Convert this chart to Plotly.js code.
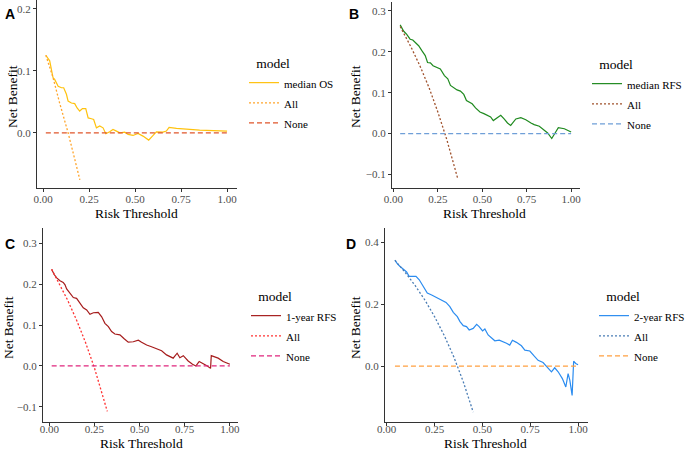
<!DOCTYPE html>
<html><head><meta charset="utf-8">
<script src="https://cdn.plot.ly/plotly-3.0.1.min.js"></script>
<style>html,body{margin:0;padding:0;background:#fff}#chart{width:685px;height:451px}</style>
</head><body><div id="chart"></div>
<script>
// ---------- Panel A : median OS ----------
const thrA = [0.015,0.036,0.054,0.063,0.082,0.100,0.112,0.127,0.136,0.154,0.172,0.185,0.199,0.214,0.232,0.245,0.263,0.275,0.290,0.308,0.326,0.341,0.362,0.380,0.399,0.417,0.444,0.462,0.489,0.516,0.543,0.574,0.598,0.616,0.652,0.670,0.685,0.725,0.851,1.0];
const nbA  = [0.125,0.116,0.089,0.086,0.075,0.0726,0.0726,0.062,0.051,0.048,0.047,0.040,0.035,0.039,0.039,0.024,0.0226,0.0215,0.008,0.011,0.008,-0.0016,0.0016,0.0054,0.0027,0,0.001,-0.0027,-0.0043,-0.001,-0.0054,-0.0118,-0.0043,0.0016,0.001,0.0027,0.0086,0.007,0.0043,0.0027];
const allThrA = [0.015,0.054,0.09,0.136,0.17,0.2];
const allNbA  = [0.125,0.089,0.048,0,-0.040,-0.076];
const noneThrA = [0.015,1.0];
const noneNbA  = [0,0];

// ---------- Panel B : median RFS ----------
const thrB = [0.038,0.057,0.075,0.094,0.109,0.123,0.142,0.160,0.179,0.192,0.208,0.223,0.245,0.264,0.287,0.306,0.321,0.340,0.358,0.377,0.396,0.411,0.425,0.443,0.462,0.487,0.509,0.528,0.547,0.562,0.585,0.604,0.623,0.642,0.660,0.675,0.689,0.717,0.745,0.774,0.792,0.821,0.840,0.868,0.891,0.906,0.928,0.962,1.0];
const nbB  = [0.266,0.251,0.243,0.231,0.229,0.223,0.215,0.203,0.191,0.174,0.173,0.166,0.162,0.158,0.142,0.134,0.118,0.112,0.107,0.104,0.096,0.081,0.077,0.073,0.063,0.053,0.049,0.045,0.041,0.032,0.039,0.045,0.036,0.026,0.020,0.028,0.036,0.039,0.034,0.026,0.022,0.018,0.012,0.0016,-0.012,0,0.0146,0.012,0.004];
const allThrB = [0.038,0.1,0.15,0.2,0.25,0.3,0.362];
const allNbB  = [0.262,0.211,0.165,0.113,0.053,-0.014,-0.11];
const noneThrB = [0.038,1.0];
const noneNbB  = [0,0];

// ---------- Panel C : 1-year RFS ----------
const thrC = [0.013,0.026,0.041,0.059,0.077,0.087,0.096,0.114,0.133,0.151,0.170,0.188,0.207,0.225,0.244,0.271,0.290,0.308,0.327,0.345,0.363,0.391,0.413,0.437,0.465,0.493,0.511,0.539,0.566,0.594,0.622,0.649,0.686,0.708,0.723,0.742,0.769,0.793,0.812,0.830,0.852,0.875,0.893,0.897,0.935,0.963,1.0];
const nbC  = [0.236,0.224,0.215,0.208,0.204,0.198,0.188,0.177,0.167,0.165,0.153,0.142,0.137,0.126,0.130,0.131,0.120,0.104,0.096,0.084,0.078,0.076,0.067,0.058,0.059,0.063,0.058,0.051,0.047,0.041,0.037,0.027,0.019,0.031,0.020,0.025,0.012,0.004,0,0.011,0.0065,0,-0.006,0.025,0.019,0.011,0.004];
const allThrC = [0.013,0.05,0.1,0.15,0.2,0.25,0.3,0.321];
const allNbC  = [0.236,0.206,0.162,0.113,0.058,-0.005,-0.077,-0.111];
const noneThrC = [0.013,1.0];
const noneNbC  = [0,0];

// ---------- Panel D : 2-year RFS ----------
const thrD = [0.043,0.056,0.070,0.087,0.104,0.117,0.130,0.153,0.170,0.191,0.212,0.235,0.261,0.287,0.310,0.330,0.348,0.369,0.383,0.400,0.417,0.431,0.452,0.470,0.483,0.501,0.513,0.530,0.548,0.565,0.588,0.609,0.626,0.643,0.657,0.678,0.704,0.722,0.748,0.769,0.791,0.817,0.838,0.861,0.878,0.896,0.918,0.936,0.948,0.957,0.969,0.977,0.988,1.0];
const nbD  = [0.342,0.330,0.322,0.314,0.304,0.290,0.290,0.290,0.279,0.257,0.236,0.230,0.222,0.214,0.206,0.192,0.174,0.160,0.144,0.131,0.128,0.117,0.122,0.135,0.128,0.114,0.120,0.101,0.090,0.082,0.084,0.079,0.074,0.068,0.084,0.077,0.066,0.052,0.049,0.034,0.019,0.012,-0.002,-0.018,-0.005,-0.018,-0.040,-0.067,-0.024,-0.045,-0.094,0.016,0.009,0.005];
const allThrD = [0.043,0.1,0.15,0.2,0.25,0.3,0.35,0.4,0.452];
const allNbD  = [0.342,0.30,0.259,0.213,0.16,0.10,0.031,-0.05,-0.148];
const noneThrD = [0.043,1.0];
const noneNbD  = [0,0];

const modelNames = ['median OS','median RFS','1-year RFS','2-year RFS'];
const xTickVals = [0,0.25,0.5,0.75,1];
const xTickText = ['0.00','0.25','0.50','0.75','1.00'];

const serif = 'Liberation Serif, Times New Roman, serif';
const panels = [
  {thr:thrA, nb:nbA, at:allThrA, an:allNbA, nt:noneThrA, nn:noneNbA, c:['#FFC20E','#FFA52C','#E0552B'], xd:[37,237], yd:[0,188], xr:[-0.033,1.054], yr:[-0.089,0.214], yt:[0,0.1,0.2], ytt:['0.0','0.1','0.2'], ls:-2, xt:[136,213], yti:[12,97], lg:[244,50]},
  {thr:thrB, nb:nbB, at:allThrB, an:allNbB, nt:noneThrB, nn:noneNbB, c:['#1F8A1F','#A0522D','#6F9FD8'], xd:[392,580], yd:[2,188], xr:[-0.008,1.05], yr:[-0.133,0.322], yt:[-0.1,0,0.1,0.2,0.3], ytt:['\u22120.1','0.0','0.1','0.2','0.3'], ls:-2, xt:[484,213], yti:[355,97], lg:[587,51]},
  {thr:thrC, nb:nbC, at:allThrC, an:allNbC, nt:noneThrC, nn:noneNbC, c:['#A61C1C','#FF3333','#E0267D'], xd:[43,238], yd:[228,422], xr:[-0.035,1.045], yr:[-0.137,0.337], yt:[-0.1,0,0.1,0.2,0.3], ytt:['\u22120.1','0.0','0.1','0.2','0.3'], ls:-6, xt:[141,443], yti:[8,328], lg:[246,283]},
  {thr:thrD, nb:nbD, at:allThrD, an:allNbD, nt:noneThrD, nn:noneNbD, c:['#2B8CF0','#4A7DB5','#FFA040'], xd:[385,588], yd:[228,422], xr:[-0.009,1.052], yr:[-0.18,0.446], yt:[0,0.2,0.4], ytt:['0.0','0.2','0.4'], ls:-6, xt:[486,443], yti:[355,328], lg:[594,283]}
];
const letters = [['A',3,4],['B',347,4],['C',3,234],['D',344,234]];

const W=685,H=451;
const traces=[]; const layout={width:W,height:H,margin:{l:0,r:0,t:0,b:0,autoexpand:false},paper_bgcolor:'#fff',plot_bgcolor:'#fff',showlegend:true,annotations:[]};
const small = s => '<span style="font-size:11px">'+s+'</span>';
panels.forEach((p,i)=>{
  const n=i===0?'':String(i+1);
  const xa='x'+n, ya='y'+n, lg='legend'+n;
  traces.push({x:p.thr,y:p.nb,xaxis:xa,yaxis:ya,mode:'lines',name:small(modelNames[i]),legend:lg,line:{color:p.c[0],width:1.2}});
  traces.push({x:p.at,y:p.an,xaxis:xa,yaxis:ya,mode:'lines',name:small('All'),legend:lg,line:{color:p.c[1],width:1.3,dash:'2px,2px'}});
  traces.push({x:p.nt,y:p.nn,xaxis:xa,yaxis:ya,mode:'lines',name:small('None'),legend:lg,line:{color:p.c[2],width:1.3,dash:'5px,3px'}});
  const axCommon={showline:true,linecolor:'#333',linewidth:1,ticks:'outside',ticklen:3,tickcolor:'#333',tickwidth:1,showgrid:false,zeroline:false,tickfont:{family:serif,size:11,color:'#4d4d4d'}};
  layout['xaxis'+n]=Object.assign({},axCommon,{domain:[p.xd[0]/W,p.xd[1]/W],range:p.xr,anchor:ya,tickvals:xTickVals,ticktext:xTickText,ticklabelstandoff:p.ls});
  layout['yaxis'+n]=Object.assign({},axCommon,{domain:[1-p.yd[1]/H,1-p.yd[0]/H],range:p.yr,anchor:xa,tickvals:p.yt,ticktext:p.ytt});
  layout[lg]={x:p.lg[0]/W,y:1-p.lg[1]/H,xanchor:'left',yanchor:'top',bgcolor:'rgba(0,0,0,0)',borderwidth:0,
    title:{text:'&nbsp;&nbsp;&nbsp;model',font:{family:serif,size:13.5,color:'#000'}},font:{family:serif,size:13.2,color:'#000'},tracegroupgap:0,itemwidth:30};
  layout.annotations.push({text:'Risk Threshold',xref:'paper',yref:'paper',x:p.xt[0]/W,y:1-p.xt[1]/H,xanchor:'center',yanchor:'middle',showarrow:false,font:{family:serif,size:13.5,color:'#000'}});
  layout.annotations.push({text:'Net Benefit',textangle:-90,xref:'paper',yref:'paper',x:p.yti[0]/W,y:1-p.yti[1]/H,xanchor:'center',yanchor:'middle',showarrow:false,font:{family:serif,size:13.5,color:'#000'}});
  layout.annotations.push({text:'<b>'+letters[i][0]+'</b>',xref:'paper',yref:'paper',x:letters[i][1]/W,y:1-letters[i][2]/H,xanchor:'left',yanchor:'top',showarrow:false,font:{family:'Liberation Sans, Arial, sans-serif',size:14,color:'#000'}});
});
Plotly.newPlot('chart',traces,layout,{displayModeBar:false,staticPlot:true});
</script></body></html>
